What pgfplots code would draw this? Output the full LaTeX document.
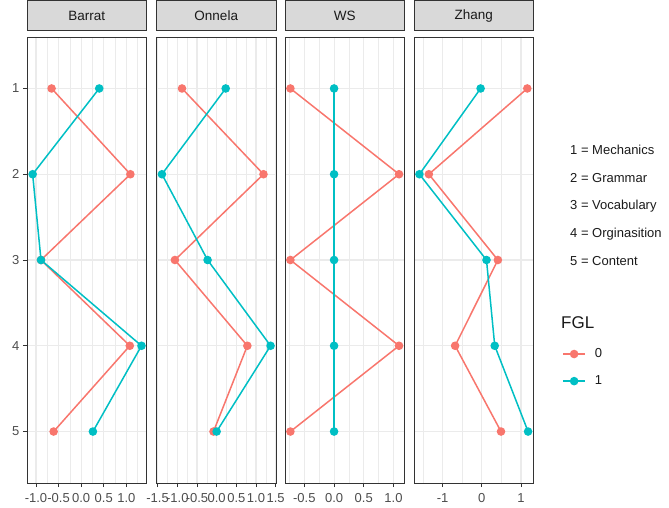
\documentclass[border=0pt]{standalone}
\usepackage{fontspec}
\setmainfont{Liberation Sans}
\usepackage{pgfplots}
\pgfplotsset{compat=1.18}
\definecolor{c0}{HTML}{F8766D}
\definecolor{c1}{HTML}{00BFC4}
\definecolor{grey92}{HTML}{EBEBEB}
\definecolor{grey85}{HTML}{D9D9D9}
\definecolor{grey20}{HTML}{333333}
\definecolor{grey30}{HTML}{4D4D4D}
\definecolor{grey10}{HTML}{1A1A1A}
\pgfplotsset{
  panel/.style={
    width=119.5pt, height=446pt, scale only axis,
    ymin=0.4, ymax=5.6, y dir=reverse,
    ytick={1,2,3,4,5}, yticklabels={},
    axis line style={draw=grey20, line width=0.9pt},
    tick align=outside, major tick length=4pt, minor tick length=0pt,
    xtick pos=bottom, ytick pos=left,
    xmajorgrids, ymajorgrids, xminorgrids,
    major grid style={draw=grey92, line width=1.1pt},
    minor grid style={draw=grey92, line width=0.55pt},
    every tick/.style={draw=grey20, line width=0.9pt},
    ticklabel style={font=\fontsize{13}{13}\selectfont, text=grey30},
    xticklabel style={yshift=-3pt},
    title style={at={(0.5,1)}, anchor=south, fill=grey85, draw=grey20, line width=0.9pt,
      minimum width=119.5pt, minimum height=30pt, inner sep=0pt,
      font=\fontsize{13.5}{13.5}\selectfont, text=grey10, yshift=0pt},
    clip=false,
    every axis plot/.append style={line width=1.5pt, mark=*, mark size=3.5pt},
    legend image code/.code={\draw[mark repeat=2,mark phase=2,##1] plot coordinates {(0pt,0pt) (11pt,0pt) (22pt,0pt)}; \path (29pt,0pt);},
  },
  noy/.style={ytick style={draw=none}},
}
\pgfplotstableread{
y x0 x1
1 -0.655 0.40
2 1.09 -1.075
3 -0.89 -0.89
4 1.077 1.336
5 -0.61 0.26
}\barrat
\pgfplotstableread{
y x0 x1
1 -0.88 0.23
2 1.19 -1.39
3 -1.06 -0.23
4 0.78 1.37
5 -0.08 0.00
}\onnela
\pgfplotstableread{
y x0 x1
1 -0.735 0
2 1.094 0
3 -0.735 0
4 1.094 0
5 -0.735 0
}\ws
\pgfplotstableread{
y x0 x1
1 1.16 -0.03
2 -1.35 -1.59
3 0.41 0.12
4 -0.68 0.33
5 0.49 1.18
}\zhang
\begin{document}
\begin{tikzpicture}[x=1pt,y=1pt]
\path[use as bounding box] (0,0) rectangle (669,508);
% Barrat
\begin{axis}[panel, at={(27pt,25pt)}, anchor=south west, title={Barrat},
  xmin=-1.2, xmax=1.447,
  xtick={-1,-0.5,0,0.5,1}, xticklabels={-1.0,-0.5,0.0,0.5,1.0},
  minor xtick={-0.75,-0.25,0.25,0.75,1.25},
  yticklabels={1,2,3,4,5}]
\addplot[c0] table[x=x0,y=y]{\barrat};
\addplot[c1] table[x=x1,y=y]{\barrat};
\end{axis}
% Onnela
\begin{axis}[panel, noy, at={(156.5pt,25pt)}, anchor=south west, title={Onnela},
  xmin=-1.528, xmax=1.508,
  xtick={-1.5,-1,-0.5,0,0.5,1,1.5}, xticklabels={-1.5,-1.0,-0.5,0.0,0.5,1.0,1.5},
  minor xtick={-1.25,-0.75,-0.25,0.25,0.75,1.25}]
\addplot[c0] table[x=x0,y=y]{\onnela};
\addplot[c1] table[x=x1,y=y]{\onnela};
\end{axis}
% WS
\begin{axis}[panel, noy, at={(285pt,25pt)}, anchor=south west, title={WS},
  xmin=-0.826, xmax=1.186,
  xtick={-0.5,0,0.5,1}, xticklabels={-0.5,0.0,0.5,1.0},
  minor xtick={-0.75,-0.25,0.25,0.75}]
\addplot[c0] table[x=x0,y=y]{\ws};
\addplot[c1] table[x=x1,y=y]{\ws};
\end{axis}
% Zhang
\begin{axis}[panel, noy, at={(414pt,25pt)}, anchor=south west, title={Zhang},
  xmin=-1.7285, xmax=1.3185,
  xtick={-1,0,1}, xticklabels={-1,0,1},
  minor xtick={-1.5,-0.5,0.5},
  legend style={at={(1.24,0.306)}, anchor=north west, draw=none, fill=none,
    font=\fontsize{13}{13}\selectfont, text=grey10, row sep=12.6pt, inner sep=0pt,
    nodes={inner sep=2pt}},
  legend cell align=left]
\addplot[c0] table[x=x0,y=y]{\zhang};
\addlegendentry{0}
\addplot[c1] table[x=x1,y=y]{\zhang};
\addlegendentry{1}
\end{axis}
\begin{scope}[every node/.style={anchor=west, font=\fontsize{13}{13}\selectfont, text=grey10, inner sep=0pt}]
\node at (570,358) {1 = Mechanics};
\node at (570,330) {2 = Grammar};
\node at (570,302) {3 = Vocabulary};
\node at (570,274) {4 = Orginasition};
\node at (570,247) {5 = Content};
\node[font=\fontsize{17}{17}\selectfont] at (561,185.3) {FGL};
\end{scope}
\end{tikzpicture}
\end{document}
